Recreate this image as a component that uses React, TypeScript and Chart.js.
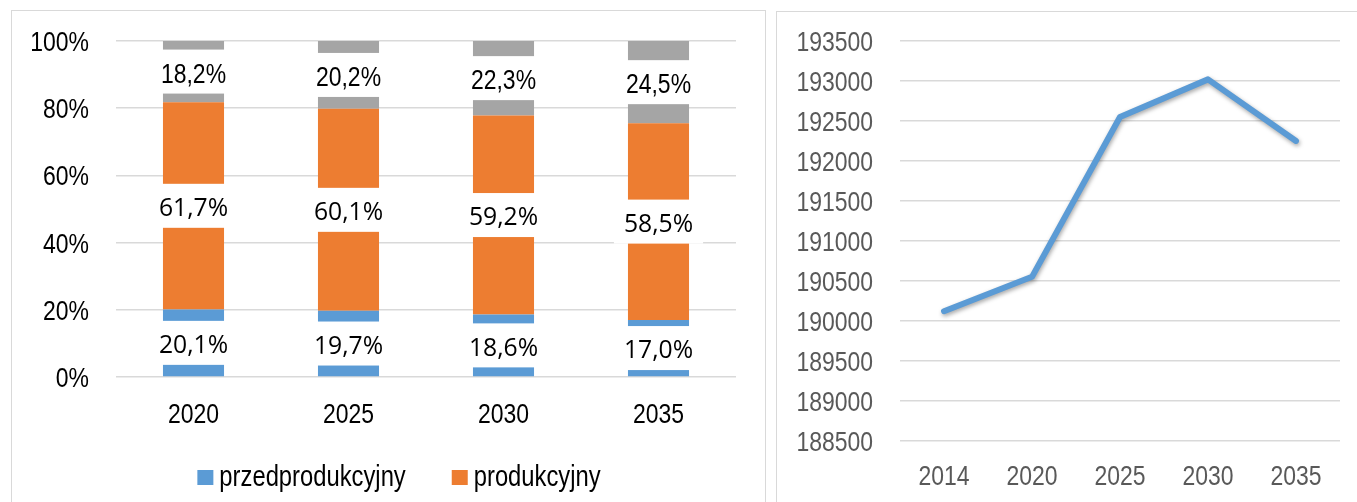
import React, { useEffect, useRef } from "react";
import { Chart, registerables } from "chart.js";

Chart.register(...registerables);

// ---- Data: left chart (age structure, %) ----
const barYears = ["2020", "2025", "2030", "2035"];
const przedprodukcyjny = [20.1, 19.7, 18.6, 17.0];
const produkcyjny = [61.7, 60.1, 59.2, 58.5];
const poprodukcyjny = [18.2, 20.2, 22.3, 24.5];
const pctTicks = [0, 20, 40, 60, 80, 100];

// ---- Data: right chart (population) ----
const lineYears = ["2014", "2020", "2025", "2030", "2035"];
const population = [190120, 190550, 192550, 193020, 192250];
const popMin = 188500;
const popMax = 193500;
const popStep = 500;

const SANS = "'Liberation Sans', Arial, sans-serif";
const ROUND = "'Open Sans', 'Noto Sans', sans-serif";
const NARROW_X = 0.82; // horizontal squeeze to imitate Arial Narrow

const BLUE = "#5B9BD5";
const ORANGE = "#ED7D31";
const GRAY = "#A5A5A5";
const GRID = "#D9D9D9";

const fmtPct = (v: number) => v.toFixed(1).replace(".", ",") + "%";

function drawSqueezed(ctx: any, txt: string, x: number, y: number, sx: number, align: string) {
  ctx.save();
  ctx.translate(x, y);
  ctx.scale(sx, 1);
  ctx.textAlign = align;
  ctx.fillText(txt, 0, 0);
  ctx.restore();
}

function makeTickPlugin(cfg: {
  color: string;
  size: number;
  yFmt: (v: number) => string;
  yGap: number;
  xGap: number;
}) {
  return {
    id: "narrowTicks",
    afterDraw(chart: any) {
      const ctx = chart.ctx;
      const area = chart.chartArea;
      ctx.save();
      ctx.font = `${cfg.size}px ${SANS}`;
      ctx.fillStyle = cfg.color;
      ctx.textBaseline = "alphabetic";
      const capHalf = (cfg.size * 0.716) / 2;
      const ys = chart.scales.y;
      ys.ticks.forEach((t: any, i: number) => {
        const py = ys.getPixelForTick(i);
        drawSqueezed(ctx, cfg.yFmt(t.value), area.left - cfg.yGap, py + capHalf, NARROW_X, "right");
      });
      const xs = chart.scales.x;
      const labels = chart.data.labels;
      xs.ticks.forEach((t: any, i: number) => {
        const px = xs.getPixelForTick(i);
        drawSqueezed(ctx, String(labels[t.value]), px, area.bottom + cfg.xGap + capHalf, NARROW_X, "center");
      });
      ctx.restore();
    },
  };
}

const labelPlugin = {
  id: "segLabels",
  afterDatasetsDraw(chart: any) {
    const ctx = chart.ctx;
    ctx.save();
    ctx.textBaseline = "alphabetic";
    chart.data.datasets.forEach((ds: any, di: number) => {
      const meta = chart.getDatasetMeta(di);
      meta.data.forEach((bar: any, i: number) => {
        const v = ds.data[i];
        const cy = (bar.y + bar.base) / 2;
        const cx = bar.x;
        const txt = fmtPct(v);
        let size: number, sx: number, cap: number;
        if (ds.labelNarrow) {
          size = 28; sx = NARROW_X; cap = 0.716;
          ctx.font = `${size}px ${SANS}`;
        } else {
          size = 26; sx = 0.95; cap = 0.714;
          ctx.font = `${size}px ${ROUND}`;
        }
        const w = ctx.measureText(txt).width * sx;
        ctx.fillStyle = "#FFFFFF";
        ctx.fillRect(cx - w / 2 - 10, cy - 22, w + 20, 44);
        ctx.fillStyle = "#000000";
        drawSqueezed(ctx, txt, cx, cy + 1 + (size * cap) / 2, sx, "center");
      });
    });
    ctx.restore();
  },
};

const legendPlugin = {
  id: "customLegend",
  afterDraw(chart: any) {
    const ctx = chart.ctx;
    ctx.save();
    const size = 29;
    ctx.font = `${size}px ${SANS}`;
    const items = chart.data.datasets.slice(0, 2);
    const box = 16;
    const gapText = 6;
    const gapItem = 46;
    const widths = items.map((d: any) => ctx.measureText(d.label).width * NARROW_X);
    let total = 0;
    widths.forEach((w: number, i: number) => {
      total += box + gapText + w + (i < widths.length - 1 ? gapItem : 0);
    });
    const cy = 466.5;
    let x = 387 - total / 2;
    ctx.textBaseline = "alphabetic";
    items.forEach((d: any, i: number) => {
      ctx.fillStyle = d.backgroundColor;
      ctx.fillRect(x, cy - 7.5, box, 15);
      ctx.fillStyle = "#000000";
      drawSqueezed(ctx, d.label, x + box + gapText, cy + (size * 0.52) / 2 + 1, NARROW_X, "left");
      x += box + gapText + widths[i] + gapItem;
    });
    ctx.restore();
  },
};

const shadowPlugin = {
  id: "lineShadow",
  beforeDatasetDraw(chart: any) {
    const ctx = chart.ctx;
    ctx.save();
    ctx.shadowColor = "rgba(0,0,0,0.35)";
    ctx.shadowBlur = 4;
    ctx.shadowOffsetX = 1;
    ctx.shadowOffsetY = 2;
  },
  afterDatasetDraw(chart: any) {
    chart.ctx.restore();
  },
};

function BarChart() {
  const ref = useRef<HTMLCanvasElement>(null);
  useEffect(() => {
    const chart = new Chart(ref.current as HTMLCanvasElement, {
      type: "bar",
      data: {
        labels: barYears,
        datasets: [
          { label: "przedprodukcyjny", data: przedprodukcyjny, backgroundColor: BLUE, barPercentage: 0.394, categoryPercentage: 1 } as any,
          { label: "produkcyjny", data: produkcyjny, backgroundColor: ORANGE, barPercentage: 0.394, categoryPercentage: 1 } as any,
          { label: "poprodukcyjny", data: poprodukcyjny, backgroundColor: GRAY, barPercentage: 0.394, categoryPercentage: 1, labelNarrow: true } as any,
        ],
      },
      options: {
        responsive: false,
        animation: false,
        events: [],
        layout: { padding: { top: 30, right: 29, bottom: 49, left: 0 } },
        plugins: { legend: { display: false }, tooltip: { enabled: false } },
        scales: {
          x: {
            stacked: true,
            grid: { display: false },
            border: { display: false },
            ticks: { display: false },
            afterFit: (s: any) => { s.height = 76; },
          },
          y: {
            stacked: true,
            min: 0,
            max: 100,
            afterBuildTicks: (s: any) => { s.ticks = pctTicks.map((v) => ({ value: v })); },
            grid: { color: GRID, lineWidth: 1.5, drawTicks: false },
            border: { display: false },
            ticks: { display: false },
            afterFit: (s: any) => { s.width = 104; },
          },
        },
      },
      plugins: [
        labelPlugin,
        legendPlugin,
        makeTickPlugin({ color: "#000000", size: 28, yFmt: (v) => v + "%", yGap: 27, xGap: 35.5 }),
      ],
    });
    return () => chart.destroy();
  }, []);
  return <canvas ref={ref} width={753} height={491} style={{ position: "absolute", left: 0, top: 0, width: 753, height: 491 }} />;
}

function LineChart() {
  const ref = useRef<HTMLCanvasElement>(null);
  useEffect(() => {
    const ticks: number[] = [];
    for (let v = popMin; v <= popMax; v += popStep) ticks.push(v);
    const chart = new Chart(ref.current as HTMLCanvasElement, {
      type: "line",
      data: {
        labels: lineYears,
        datasets: [
          {
            label: "ludność",
            data: population,
            borderColor: BLUE,
            backgroundColor: BLUE,
            borderWidth: 6,
            borderCapStyle: "round",
            borderJoinStyle: "round",
            pointRadius: 0,
            tension: 0,
          },
        ],
      },
      options: {
        responsive: false,
        animation: false,
        events: [],
        layout: { padding: { top: 29, right: 17, bottom: 0, left: 0 }, autoPadding: false } as any,
        plugins: { legend: { display: false }, tooltip: { enabled: false } },
        scales: {
          x: {
            offset: true,
            grid: { display: false },
            border: { display: false },
            ticks: { display: false },
            afterFit: (s: any) => { s.height = 61.3; },
          },
          y: {
            min: popMin,
            max: popMax,
            afterBuildTicks: (s: any) => { s.ticks = ticks.map((v) => ({ value: v })); },
            grid: { color: GRID, lineWidth: 1.5, drawTicks: false },
            border: { display: false },
            ticks: { display: false },
            afterFit: (s: any) => { s.width = 123; },
          },
        },
      },
      plugins: [
        shadowPlugin,
        makeTickPlugin({ color: "#595959", size: 28, yFmt: (v) => String(v), yGap: 27, xGap: 34.3 }),
      ],
    });
    return () => chart.destroy();
  }, []);
  return <canvas ref={ref} width={580} height={490} style={{ position: "absolute", left: 0, top: 0, width: 580, height: 490 }} />;
}

export default function App() {
  useEffect(() => {
    document.body.style.overflow = "hidden";
  }, []);
  return (
    <div>
      <div
        style={{
          position: "absolute",
          left: 11,
          top: 10,
          width: 755,
          height: 492,
          boxSizing: "border-box",
          borderTop: `1px solid ${GRID}`,
          borderLeft: `1px solid ${GRID}`,
          borderRight: `1px solid ${GRID}`,
          background: "#FFFFFF",
          overflow: "hidden",
        }}
      >
        <BarChart />
      </div>
      <div
        style={{
          position: "absolute",
          left: 776,
          top: 11,
          width: 581,
          height: 491,
          boxSizing: "border-box",
          borderTop: `1px solid ${GRID}`,
          borderLeft: `1px solid ${GRID}`,
          background: "#FFFFFF",
          overflow: "hidden",
        }}
      >
        <LineChart />
      </div>
    </div>
  );
}
